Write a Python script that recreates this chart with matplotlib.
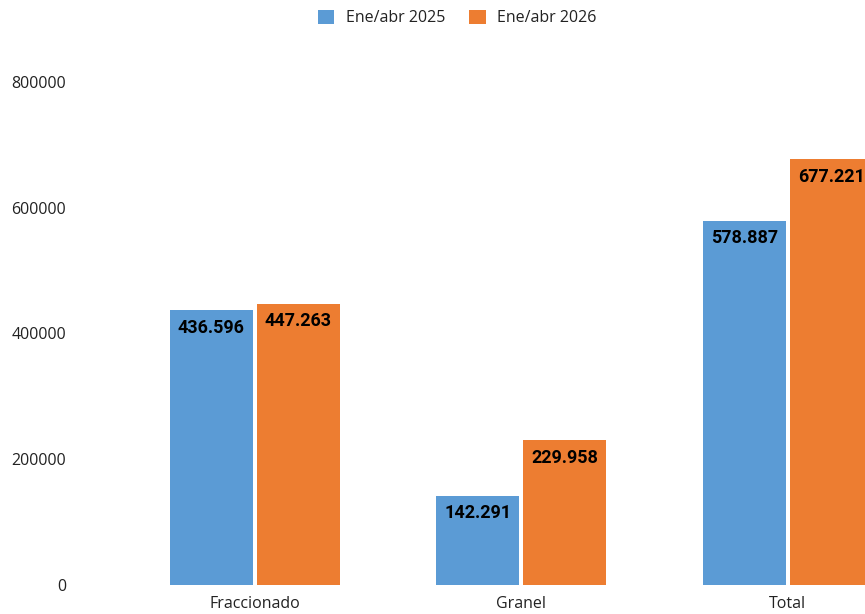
import matplotlib
matplotlib.use("Agg")
import matplotlib.pyplot as plt
import numpy as np

categories = ["Fraccionado", "Granel", "Total"]
series_names = ["Ene/abr 2025", "Ene/abr 2026"]
values_2025 = [436596, 142291, 578887]
values_2026 = [447263, 229958, 677221]
label_2025 = ["436.596", "142.291", "578.887"]
label_2026 = ["447.263", "229.958", "677.221"]
colors = ["#5B9BD5", "#ED7D31"]

plt.rcParams["font.family"] = ["Open Sans", "DejaVu Sans"]

W, H = 865, 614
fig = plt.figure(figsize=(W / 100, H / 100), dpi=100)
# plot area runs past the right edge, like the original (Total bar is cut off)
left, right, bottom, top = 121.5, 921, 585, 82
ax = fig.add_axes([left / W, 1 - bottom / H, (right - left) / W, (bottom - top) / H])

x = np.arange(len(categories))
bw = 0.311
off = 0.163
for vals, labs, c, name, sign in [(values_2025, label_2025, colors[0], series_names[0], -1),
                                  (values_2026, label_2026, colors[1], series_names[1], 1)]:
    bars = ax.bar(x + sign * off, vals, width=bw, color=c, label=name, clip_on=False)
    for b, lab in zip(bars, labs):
        ax.annotate(lab, (b.get_x() + b.get_width() / 2, b.get_height()),
                    xytext=(0, -6), textcoords="offset points", ha="center", va="top",
                    fontsize=13, fontweight="bold", family="Roboto", color="black")

ax.set_xlim(-0.5, 2.5)
ax.set_ylim(0, 800000)
ax.set_yticks([0, 200000, 400000, 600000, 800000])
ax.set_yticklabels(["0", "200000", "400000", "600000", "800000"])
ax.set_xticks(x)
ax.set_xticklabels(categories)
ax.tick_params(axis="y", length=0, pad=40, labelsize=11.5, labelcolor="#222222")
ax.tick_params(axis="x", length=0, pad=8, labelsize=11.5, labelcolor="#222222")
for s in ax.spines.values():
    s.set_visible(False)

fig.legend(loc="center", bbox_to_anchor=(457 / W, 1 - 18 / H), ncol=2, frameon=False,
           fontsize=11.5, handlelength=1.05, handleheight=1.05, columnspacing=1.5,
           handletextpad=0.7, labelcolor="#222222")

fig.savefig("out.png", dpi=100)
